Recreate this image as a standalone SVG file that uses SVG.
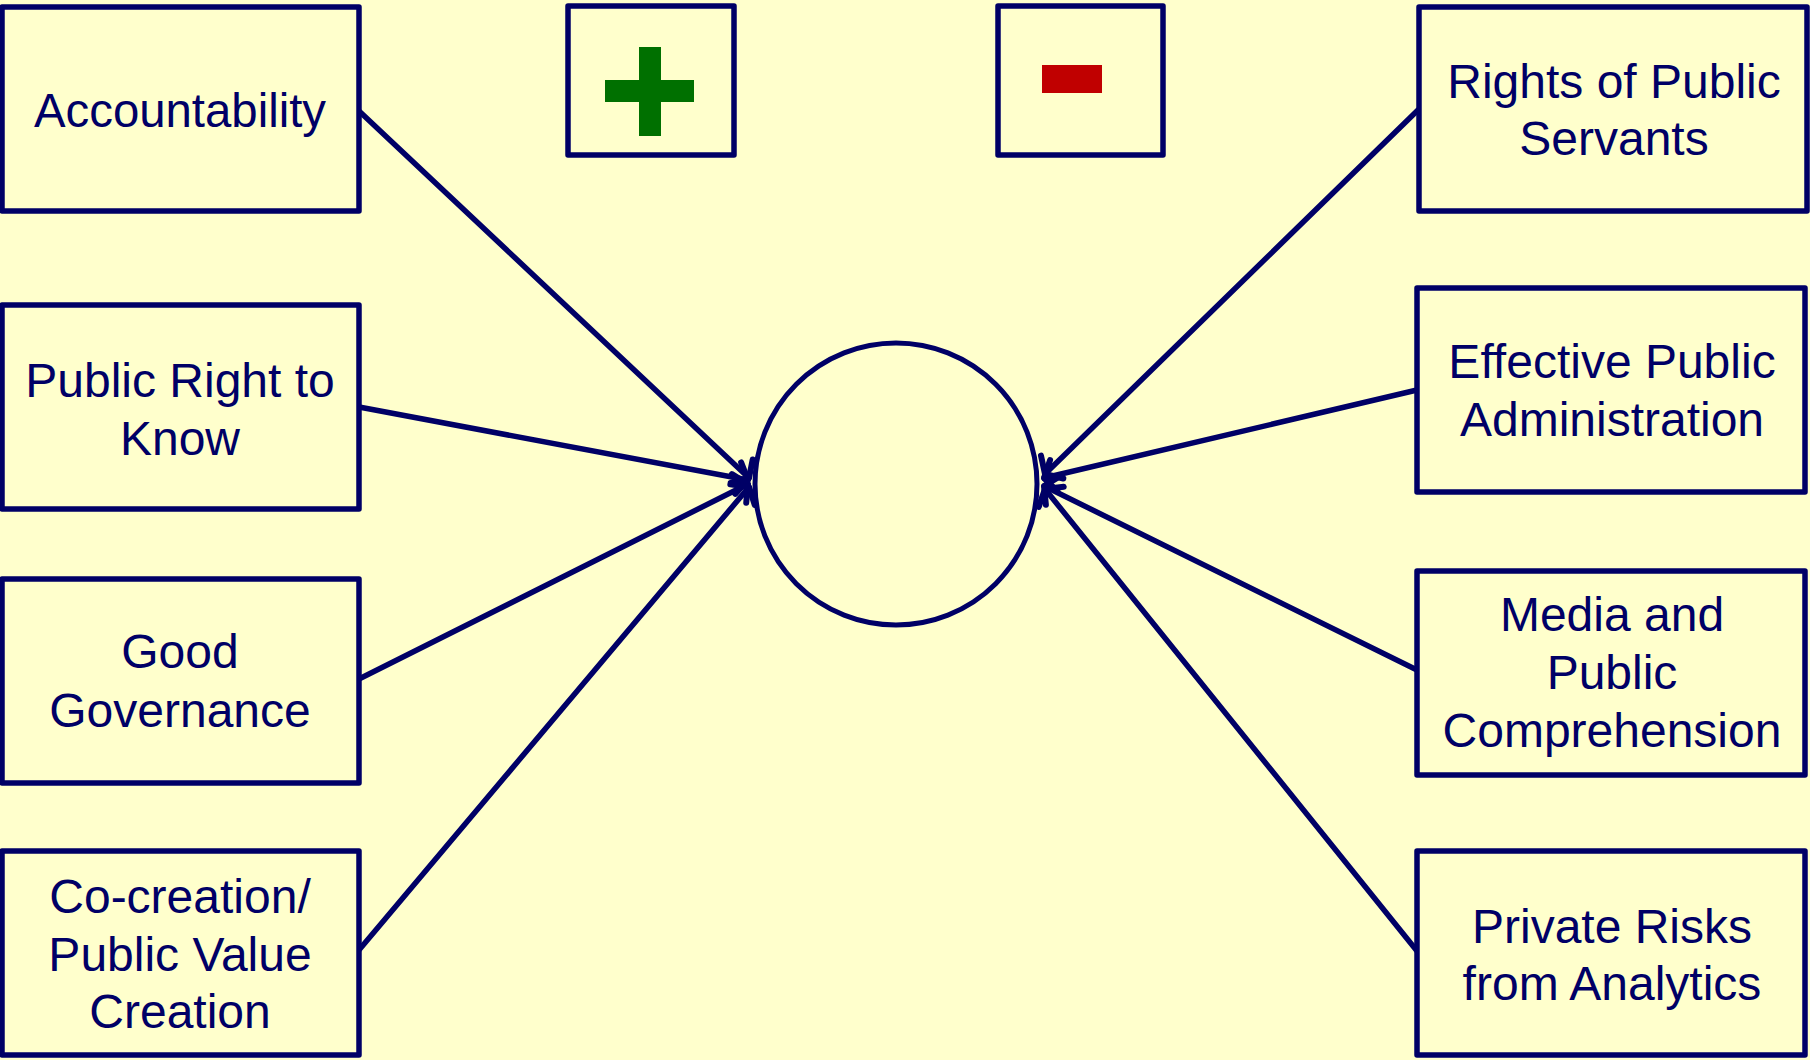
<svg xmlns="http://www.w3.org/2000/svg" width="1810" height="1060" viewBox="0 0 1810 1060">
<style>
.box{fill:#FFFFCC;stroke:#000066;stroke-width:5.5;stroke-linejoin:round}
.lbl{font-family:"Liberation Sans",Arial,sans-serif;font-size:48px;fill:#000066;text-anchor:middle}
.conn{stroke:#000066;stroke-width:5.5;fill:none;stroke-linecap:round;marker-end:url(#arr)}
</style>
<defs>
<marker id="arr" markerUnits="userSpaceOnUse" viewBox="-20 -20 30 40" refX="0" refY="0" markerWidth="30" markerHeight="40" orient="auto">
<path d="M -10,-16 L 0,0 L -10,16" fill="none" stroke="#000066" stroke-width="6" stroke-linecap="round" stroke-linejoin="round"/>
</marker>
</defs>
<rect x="0" y="0" width="1810" height="1060" fill="#FFFFCC"/>

<g id="connectors">
<line class="conn" x1="359" y1="111" x2="749" y2="478"/>
<line class="conn" x1="359" y1="407" x2="748" y2="480"/>
<line class="conn" x1="359" y1="679" x2="748" y2="484"/>
<line class="conn" x1="359" y1="950" x2="749" y2="487"/>
<line class="conn" x1="1418" y1="110" x2="1045" y2="474"/>
<line class="conn" x1="1417" y1="390" x2="1044" y2="478"/>
<line class="conn" x1="1417" y1="670" x2="1044" y2="486"/>
<line class="conn" x1="1417" y1="951" x2="1045" y2="489"/>
</g>

<g id="center">
<circle cx="896" cy="484" r="141" fill="#FFFFCC" stroke="#000066" stroke-width="5"/>
</g>

<g id="plus">
<rect class="box" x="568" y="6" width="166" height="149"/>
<rect x="639" y="47" width="22" height="89" fill="#007000"/>
<rect x="605" y="80" width="89" height="22" fill="#007000"/>
</g>
<g id="minus">
<rect class="box" x="998" y="6" width="165" height="149"/>
<rect x="1042" y="65" width="60" height="28" fill="#C00000"/>
</g>

<g id="accountability">
<rect class="box" x="2" y="7" width="357" height="204"/>
<text class="lbl" x="180" y="127" textLength="292" lengthAdjust="spacingAndGlyphs">Accountability</text>
</g>
<g id="public-right">
<rect class="box" x="2" y="305" width="357" height="204"/>
<text class="lbl" x="180" y="397">Public Right to</text>
<text class="lbl" x="180" y="455">Know</text>
</g>
<g id="good-governance">
<rect class="box" x="2" y="579" width="357" height="204"/>
<text class="lbl" x="180" y="668">Good</text>
<text class="lbl" x="180" y="727">Governance</text>
</g>
<g id="co-creation">
<rect class="box" x="2" y="851" width="357" height="204"/>
<text class="lbl" x="180" y="913">Co-creation/</text>
<text class="lbl" x="180" y="971">Public Value</text>
<text class="lbl" x="180" y="1028">Creation</text>
</g>

<g id="rights">
<rect class="box" x="1419" y="7" width="388" height="204"/>
<text class="lbl" x="1614" y="98">Rights of Public</text>
<text class="lbl" x="1614" y="155">Servants</text>
</g>
<g id="effective">
<rect class="box" x="1417" y="288" width="388" height="204"/>
<text class="lbl" x="1612" y="378">Effective Public</text>
<text class="lbl" x="1612" y="436">Administration</text>
</g>
<g id="media">
<rect class="box" x="1417" y="571" width="388" height="204"/>
<text class="lbl" x="1612" y="631">Media and</text>
<text class="lbl" x="1612" y="689">Public</text>
<text class="lbl" x="1612" y="747">Comprehension</text>
</g>
<g id="private">
<rect class="box" x="1417" y="851" width="388" height="204"/>
<text class="lbl" x="1612" y="943">Private Risks</text>
<text class="lbl" x="1612" y="1000">from Analytics</text>
</g>
</svg>
